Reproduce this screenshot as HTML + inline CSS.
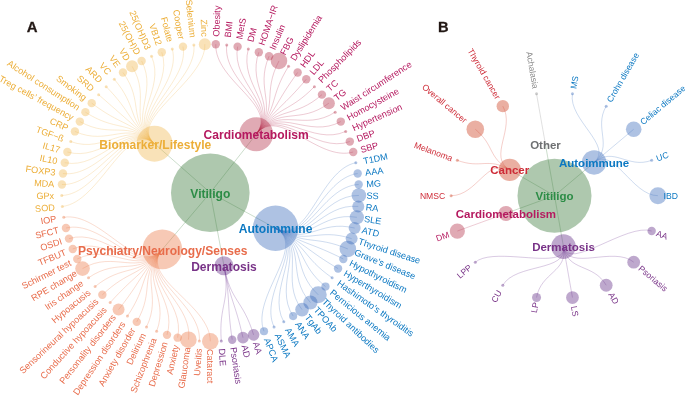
<!DOCTYPE html>
<html><head><meta charset="utf-8"><title>Vitiligo associations</title>
<style>
html,body{margin:0;padding:0;background:#fff;}
svg{display:block;font-family:"Liberation Sans",sans-serif;}
</style></head>
<body>
<svg width="685" height="396" viewBox="0 0 685 396">
<rect width="685" height="396" fill="#fff"/>
<g fill="none" stroke-width="0.5" stroke-opacity="0.5"><path d="M210.3 192.7L256.16 134.24" stroke="#357635"/><path d="M256.16 134.24C279.1 105.02 214.42 81.33 215.79 44.2" stroke="#B82E52"/><path d="M256.16 134.24C279.1 105.02 222.63 81.93 226.74 45.01" stroke="#B82E52"/><path d="M256.16 134.24C279.1 105.02 230.78 83.15 237.61 46.63" stroke="#B82E52"/><path d="M256.16 134.24C279.1 105.02 238.81 84.96 248.32 49.05" stroke="#B82E52"/><path d="M256.16 134.24C279.1 105.02 246.69 87.36 258.82 52.25" stroke="#B82E52"/><path d="M256.16 134.24C279.1 105.02 254.37 90.33 269.06 56.21" stroke="#B82E52"/><path d="M256.16 134.24C279.1 105.02 261.81 93.87 278.98 60.93" stroke="#B82E52"/><path d="M256.16 134.24C279.1 105.02 268.97 97.94 288.53 66.36" stroke="#B82E52"/><path d="M256.16 134.24C279.1 105.02 275.81 102.54 297.64 72.48" stroke="#B82E52"/><path d="M256.16 134.24C279.1 105.02 282.29 107.62 306.28 79.26" stroke="#B82E52"/><path d="M256.16 134.24C279.1 105.02 288.38 113.17 314.4 86.66" stroke="#B82E52"/><path d="M256.16 134.24C279.1 105.02 294.04 119.15 321.95 94.64" stroke="#B82E52"/><path d="M256.16 134.24C279.1 105.02 299.24 125.54 328.89 103.15" stroke="#B82E52"/><path d="M256.16 134.24C279.1 105.02 303.96 132.29 335.18 112.15" stroke="#B82E52"/><path d="M256.16 134.24C279.1 105.02 308.16 139.37 340.78 121.59" stroke="#B82E52"/><path d="M256.16 134.24C279.1 105.02 311.83 146.74 345.68 131.42" stroke="#B82E52"/><path d="M256.16 134.24C279.1 105.02 314.95 154.37 349.83 141.59" stroke="#B82E52"/><path d="M256.16 134.24C279.1 105.02 317.5 162.2 353.23 152.03" stroke="#B82E52"/><path d="M210.3 192.7L275.54 228.25" stroke="#357635"/><path d="M275.54 228.25C308.16 246.03 319.46 170.2 355.84 162.7" stroke="#3F72C0"/><path d="M275.54 228.25C308.16 246.03 320.82 178.32 357.66 173.53" stroke="#3F72C0"/><path d="M275.54 228.25C308.16 246.03 321.58 186.52 358.67 184.47" stroke="#3F72C0"/><path d="M275.54 228.25C308.16 246.03 321.73 194.76 358.87 195.45" stroke="#3F72C0"/><path d="M275.54 228.25C308.16 246.03 321.27 202.98 358.27 206.41" stroke="#3F72C0"/><path d="M275.54 228.25C308.16 246.03 320.21 211.15 356.85 217.3" stroke="#3F72C0"/><path d="M275.54 228.25C308.16 246.03 318.55 219.22 354.63 228.06" stroke="#3F72C0"/><path d="M275.54 228.25C308.16 246.03 316.3 227.14 351.63 238.62" stroke="#3F72C0"/><path d="M275.54 228.25C308.16 246.03 313.46 234.87 347.85 248.93" stroke="#3F72C0"/><path d="M275.54 228.25C308.16 246.03 310.07 242.38 343.32 258.94" stroke="#3F72C0"/><path d="M275.54 228.25C308.16 246.03 306.12 249.61 338.07 268.58" stroke="#3F72C0"/><path d="M275.54 228.25C308.16 246.03 301.66 256.53 332.11 277.81" stroke="#3F72C0"/><path d="M275.54 228.25C308.16 246.03 296.7 263.1 325.5 286.57" stroke="#3F72C0"/><path d="M275.54 228.25C308.16 246.03 291.26 269.29 318.25 294.82" stroke="#3F72C0"/><path d="M275.54 228.25C308.16 246.03 285.38 275.06 310.41 302.52" stroke="#3F72C0"/><path d="M275.54 228.25C308.16 246.03 279.1 280.38 302.03 309.61" stroke="#3F72C0"/><path d="M275.54 228.25C308.16 246.03 272.43 285.22 293.14 316.07" stroke="#3F72C0"/><path d="M275.54 228.25C308.16 246.03 265.43 289.56 283.81 321.85" stroke="#3F72C0"/><path d="M275.54 228.25C308.16 246.03 258.13 293.37 274.07 326.92" stroke="#3F72C0"/><path d="M275.54 228.25C308.16 246.03 250.56 296.62 263.98 331.27" stroke="#3F72C0"/><path d="M210.3 192.7L223.95 265.73" stroke="#357635"/><path d="M223.95 265.73C230.78 302.25 242.78 299.31 253.6 334.85" stroke="#6A3090"/><path d="M223.95 265.73C230.78 302.25 234.81 301.42 242.98 337.66" stroke="#6A3090"/><path d="M223.95 265.73C230.78 302.25 226.72 302.93 232.19 339.68" stroke="#6A3090"/><path d="M223.95 265.73C230.78 302.25 218.53 303.85 221.27 340.89" stroke="#6A3090"/><path d="M210.3 192.7L162.31 249.42" stroke="#357635"/><path d="M162.31 249.42C138.31 277.78 210.3 304.15 210.3 341.3" stroke="#EB7846"/><path d="M162.31 249.42C138.31 277.78 202.07 303.85 199.33 340.89" stroke="#EB7846"/><path d="M162.31 249.42C138.31 277.78 193.88 302.93 188.41 339.68" stroke="#EB7846"/><path d="M162.31 249.42C138.31 277.78 185.79 301.42 177.62 337.66" stroke="#EB7846"/><path d="M162.31 249.42C138.31 277.78 177.82 299.31 167 334.85" stroke="#EB7846"/><path d="M162.31 249.42C138.31 277.78 170.04 296.62 156.62 331.27" stroke="#EB7846"/><path d="M162.31 249.42C138.31 277.78 162.47 293.37 146.53 326.92" stroke="#EB7846"/><path d="M162.31 249.42C138.31 277.78 155.17 289.56 136.79 321.85" stroke="#EB7846"/><path d="M162.31 249.42C138.31 277.78 148.17 285.22 127.46 316.07" stroke="#EB7846"/><path d="M162.31 249.42C138.31 277.78 141.5 280.38 118.57 309.61" stroke="#EB7846"/><path d="M162.31 249.42C138.31 277.78 135.22 275.06 110.19 302.52" stroke="#EB7846"/><path d="M162.31 249.42C138.31 277.78 129.34 269.29 102.35 294.82" stroke="#EB7846"/><path d="M162.31 249.42C138.31 277.78 123.9 263.1 95.1 286.57" stroke="#EB7846"/><path d="M162.31 249.42C138.31 277.78 118.94 256.53 88.49 277.81" stroke="#EB7846"/><path d="M162.31 249.42C138.31 277.78 114.48 249.61 82.53 268.58" stroke="#EB7846"/><path d="M162.31 249.42C138.31 277.78 110.53 242.38 77.28 258.94" stroke="#EB7846"/><path d="M162.31 249.42C138.31 277.78 107.14 234.87 72.75 248.93" stroke="#EB7846"/><path d="M162.31 249.42C138.31 277.78 104.3 227.14 68.97 238.62" stroke="#EB7846"/><path d="M162.31 249.42C138.31 277.78 102.05 219.22 65.97 228.06" stroke="#EB7846"/><path d="M162.31 249.42C138.31 277.78 100.39 211.15 63.75 217.3" stroke="#EB7846"/><path d="M210.3 192.7L154.48 143.67" stroke="#357635"/><path d="M154.48 143.67C126.56 119.15 99.33 202.98 62.33 206.41" stroke="#EFB24A"/><path d="M154.48 143.67C126.56 119.15 98.87 194.76 61.73 195.45" stroke="#EFB24A"/><path d="M154.48 143.67C126.56 119.15 99.02 186.52 61.93 184.47" stroke="#EFB24A"/><path d="M154.48 143.67C126.56 119.15 99.78 178.32 62.94 173.53" stroke="#EFB24A"/><path d="M154.48 143.67C126.56 119.15 101.14 170.2 64.76 162.7" stroke="#EFB24A"/><path d="M154.48 143.67C126.56 119.15 103.1 162.2 67.37 152.03" stroke="#EFB24A"/><path d="M154.48 143.67C126.56 119.15 105.65 154.37 70.77 141.59" stroke="#EFB24A"/><path d="M154.48 143.67C126.56 119.15 108.77 146.74 74.92 131.42" stroke="#EFB24A"/><path d="M154.48 143.67C126.56 119.15 112.44 139.37 79.82 121.59" stroke="#EFB24A"/><path d="M154.48 143.67C126.56 119.15 116.64 132.29 85.42 112.15" stroke="#EFB24A"/><path d="M154.48 143.67C126.56 119.15 121.36 125.54 91.71 103.15" stroke="#EFB24A"/><path d="M154.48 143.67C126.56 119.15 126.56 119.15 98.65 94.64" stroke="#EFB24A"/><path d="M154.48 143.67C126.56 119.15 132.22 113.17 106.2 86.66" stroke="#EFB24A"/><path d="M154.48 143.67C126.56 119.15 138.31 107.62 114.32 79.26" stroke="#EFB24A"/><path d="M154.48 143.67C126.56 119.15 144.79 102.54 122.96 72.48" stroke="#EFB24A"/><path d="M154.48 143.67C126.56 119.15 151.63 97.94 132.07 66.36" stroke="#EFB24A"/><path d="M154.48 143.67C126.56 119.15 158.79 93.87 141.62 60.93" stroke="#EFB24A"/><path d="M154.48 143.67C126.56 119.15 166.23 90.33 151.54 56.21" stroke="#EFB24A"/><path d="M154.48 143.67C126.56 119.15 173.91 87.36 161.78 52.25" stroke="#EFB24A"/><path d="M154.48 143.67C126.56 119.15 181.79 84.96 172.28 49.05" stroke="#EFB24A"/><path d="M154.48 143.67C126.56 119.15 189.82 83.15 182.99 46.63" stroke="#EFB24A"/><path d="M154.48 143.67C126.56 119.15 197.97 81.93 193.86 45.01" stroke="#EFB24A"/><path d="M154.48 143.67C126.56 119.15 206.18 81.33 204.81 44.2" stroke="#EFB24A"/></g>
<g><circle cx="210.3" cy="192.7" r="39.3" fill="#357635" fill-opacity="0.4"/><circle cx="256.16" cy="134.24" r="17" fill="#B22B44" fill-opacity="0.4"/><circle cx="215.79" cy="44.2" r="4.2" fill="#B22B44" fill-opacity="0.4"/><circle cx="226.74" cy="45.01" r="1.5" fill="#B22B44" fill-opacity="0.4"/><circle cx="237.61" cy="46.63" r="4.2" fill="#B22B44" fill-opacity="0.4"/><circle cx="248.32" cy="49.05" r="1.5" fill="#B22B44" fill-opacity="0.4"/><circle cx="258.82" cy="52.25" r="4.2" fill="#B22B44" fill-opacity="0.4"/><circle cx="269.06" cy="56.21" r="4.2" fill="#B22B44" fill-opacity="0.4"/><circle cx="278.98" cy="60.93" r="8.3" fill="#B22B44" fill-opacity="0.4"/><circle cx="288.53" cy="66.36" r="1.5" fill="#B22B44" fill-opacity="0.4"/><circle cx="297.64" cy="72.48" r="4.2" fill="#B22B44" fill-opacity="0.4"/><circle cx="306.28" cy="79.26" r="4.2" fill="#B22B44" fill-opacity="0.4"/><circle cx="314.4" cy="86.66" r="1.5" fill="#B22B44" fill-opacity="0.4"/><circle cx="321.95" cy="94.64" r="4.2" fill="#B22B44" fill-opacity="0.4"/><circle cx="328.89" cy="103.15" r="6" fill="#B22B44" fill-opacity="0.4"/><circle cx="335.18" cy="112.15" r="1.5" fill="#B22B44" fill-opacity="0.4"/><circle cx="340.78" cy="121.59" r="4.2" fill="#B22B44" fill-opacity="0.4"/><circle cx="345.68" cy="131.42" r="1.5" fill="#B22B44" fill-opacity="0.4"/><circle cx="349.83" cy="141.59" r="4.2" fill="#B22B44" fill-opacity="0.4"/><circle cx="353.23" cy="152.03" r="4.2" fill="#B22B44" fill-opacity="0.4"/><circle cx="275.54" cy="228.25" r="22.7" fill="#3567B9" fill-opacity="0.4"/><circle cx="355.84" cy="162.7" r="1.5" fill="#3567B9" fill-opacity="0.4"/><circle cx="357.66" cy="173.53" r="4.2" fill="#3567B9" fill-opacity="0.4"/><circle cx="358.67" cy="184.47" r="4.2" fill="#3567B9" fill-opacity="0.4"/><circle cx="358.87" cy="195.45" r="7.3" fill="#3567B9" fill-opacity="0.4"/><circle cx="358.27" cy="206.41" r="6" fill="#3567B9" fill-opacity="0.4"/><circle cx="356.85" cy="217.3" r="7.1" fill="#3567B9" fill-opacity="0.4"/><circle cx="354.63" cy="228.06" r="6" fill="#3567B9" fill-opacity="0.4"/><circle cx="351.63" cy="238.62" r="6" fill="#3567B9" fill-opacity="0.4"/><circle cx="347.85" cy="248.93" r="8.3" fill="#3567B9" fill-opacity="0.4"/><circle cx="343.32" cy="258.94" r="4.2" fill="#3567B9" fill-opacity="0.4"/><circle cx="338.07" cy="268.58" r="4.2" fill="#3567B9" fill-opacity="0.4"/><circle cx="332.11" cy="277.81" r="1.5" fill="#3567B9" fill-opacity="0.4"/><circle cx="325.5" cy="286.57" r="4.1" fill="#3567B9" fill-opacity="0.4"/><circle cx="318.25" cy="294.82" r="8.5" fill="#3567B9" fill-opacity="0.4"/><circle cx="310.41" cy="302.52" r="7.1" fill="#3567B9" fill-opacity="0.4"/><circle cx="302.03" cy="309.61" r="6.8" fill="#3567B9" fill-opacity="0.4"/><circle cx="293.14" cy="316.07" r="4.1" fill="#3567B9" fill-opacity="0.4"/><circle cx="283.81" cy="321.85" r="1.5" fill="#3567B9" fill-opacity="0.4"/><circle cx="274.07" cy="326.92" r="1.5" fill="#3567B9" fill-opacity="0.4"/><circle cx="263.98" cy="331.27" r="4.1" fill="#3567B9" fill-opacity="0.4"/><circle cx="223.95" cy="265.73" r="9.5" fill="#5D2682" fill-opacity="0.4"/><circle cx="253.6" cy="334.85" r="5.8" fill="#5D2682" fill-opacity="0.4"/><circle cx="242.98" cy="337.66" r="5.8" fill="#5D2682" fill-opacity="0.4"/><circle cx="232.19" cy="339.68" r="4.2" fill="#5D2682" fill-opacity="0.4"/><circle cx="221.27" cy="340.89" r="1.5" fill="#5D2682" fill-opacity="0.4"/><circle cx="162.31" cy="249.42" r="19.9" fill="#EB7846" fill-opacity="0.4"/><circle cx="210.3" cy="341.3" r="8.3" fill="#EB7846" fill-opacity="0.4"/><circle cx="199.33" cy="340.89" r="1.5" fill="#EB7846" fill-opacity="0.4"/><circle cx="188.41" cy="339.68" r="8.3" fill="#EB7846" fill-opacity="0.4"/><circle cx="177.62" cy="337.66" r="4.2" fill="#EB7846" fill-opacity="0.4"/><circle cx="167" cy="334.85" r="4.2" fill="#EB7846" fill-opacity="0.4"/><circle cx="156.62" cy="331.27" r="1.5" fill="#EB7846" fill-opacity="0.4"/><circle cx="146.53" cy="326.92" r="1.5" fill="#EB7846" fill-opacity="0.4"/><circle cx="136.79" cy="321.85" r="4.2" fill="#EB7846" fill-opacity="0.4"/><circle cx="127.46" cy="316.07" r="1.5" fill="#EB7846" fill-opacity="0.4"/><circle cx="118.57" cy="309.61" r="6" fill="#EB7846" fill-opacity="0.4"/><circle cx="110.19" cy="302.52" r="1.5" fill="#EB7846" fill-opacity="0.4"/><circle cx="102.35" cy="294.82" r="4.2" fill="#EB7846" fill-opacity="0.4"/><circle cx="95.1" cy="286.57" r="1.5" fill="#EB7846" fill-opacity="0.4"/><circle cx="88.49" cy="277.81" r="1.5" fill="#EB7846" fill-opacity="0.4"/><circle cx="82.53" cy="268.58" r="7.3" fill="#EB7846" fill-opacity="0.4"/><circle cx="77.28" cy="258.94" r="4.2" fill="#EB7846" fill-opacity="0.4"/><circle cx="72.75" cy="248.93" r="4.2" fill="#EB7846" fill-opacity="0.4"/><circle cx="68.97" cy="238.62" r="4.2" fill="#EB7846" fill-opacity="0.4"/><circle cx="65.97" cy="228.06" r="4.2" fill="#EB7846" fill-opacity="0.4"/><circle cx="63.75" cy="217.3" r="1.5" fill="#EB7846" fill-opacity="0.4"/><circle cx="154.48" cy="143.67" r="18" fill="#F0B64E" fill-opacity="0.4"/><circle cx="62.33" cy="206.41" r="1.5" fill="#F0B64E" fill-opacity="0.4"/><circle cx="61.73" cy="195.45" r="1.5" fill="#F0B64E" fill-opacity="0.4"/><circle cx="61.93" cy="184.47" r="4.2" fill="#F0B64E" fill-opacity="0.4"/><circle cx="62.94" cy="173.53" r="4.2" fill="#F0B64E" fill-opacity="0.4"/><circle cx="64.76" cy="162.7" r="4.2" fill="#F0B64E" fill-opacity="0.4"/><circle cx="67.37" cy="152.03" r="4.2" fill="#F0B64E" fill-opacity="0.4"/><circle cx="70.77" cy="141.59" r="1.5" fill="#F0B64E" fill-opacity="0.4"/><circle cx="74.92" cy="131.42" r="4.2" fill="#F0B64E" fill-opacity="0.4"/><circle cx="79.82" cy="121.59" r="4.2" fill="#F0B64E" fill-opacity="0.4"/><circle cx="85.42" cy="112.15" r="4.2" fill="#F0B64E" fill-opacity="0.4"/><circle cx="91.71" cy="103.15" r="4.2" fill="#F0B64E" fill-opacity="0.4"/><circle cx="98.65" cy="94.64" r="1.5" fill="#F0B64E" fill-opacity="0.4"/><circle cx="106.2" cy="86.66" r="1.5" fill="#F0B64E" fill-opacity="0.4"/><circle cx="114.32" cy="79.26" r="1.5" fill="#F0B64E" fill-opacity="0.4"/><circle cx="122.96" cy="72.48" r="4.2" fill="#F0B64E" fill-opacity="0.4"/><circle cx="132.07" cy="66.36" r="6" fill="#F0B64E" fill-opacity="0.4"/><circle cx="141.62" cy="60.93" r="4.2" fill="#F0B64E" fill-opacity="0.4"/><circle cx="151.54" cy="56.21" r="1.5" fill="#F0B64E" fill-opacity="0.4"/><circle cx="161.78" cy="52.25" r="4.2" fill="#F0B64E" fill-opacity="0.4"/><circle cx="172.28" cy="49.05" r="1.5" fill="#F0B64E" fill-opacity="0.4"/><circle cx="182.99" cy="46.63" r="4.2" fill="#F0B64E" fill-opacity="0.4"/><circle cx="193.86" cy="45.01" r="1.5" fill="#F0B64E" fill-opacity="0.4"/><circle cx="204.81" cy="44.2" r="6" fill="#F0B64E" fill-opacity="0.4"/></g>
<g font-size="9.15" dy="0.35em"><text dy="0.35em" transform="translate(216.07 36.61) rotate(-87.88)" text-anchor="start" fill="#B5195F">Obesity</text><text dy="0.35em" transform="translate(227.58 37.46) rotate(-83.65)" text-anchor="start" fill="#B5195F">BMI</text><text dy="0.35em" transform="translate(239 39.16) rotate(-79.41)" text-anchor="start" fill="#B5195F">MetS</text><text dy="0.35em" transform="translate(250.26 41.7) rotate(-75.18)" text-anchor="start" fill="#B5195F">DM</text><text dy="0.35em" transform="translate(261.31 45.06) rotate(-70.94)" text-anchor="start" fill="#B5195F">HOMA−IR</text><text dy="0.35em" transform="translate(272.07 49.23) rotate(-66.71)" text-anchor="start" fill="#B5195F">Insulin</text><text dy="0.35em" transform="translate(282.5 54.19) rotate(-62.47)" text-anchor="start" fill="#B5195F">FBG</text><text dy="0.35em" transform="translate(292.53 59.9) rotate(-58.24)" text-anchor="start" fill="#B5195F">Dyslipidemia</text><text dy="0.35em" transform="translate(302.11 66.33) rotate(-54)" text-anchor="start" fill="#B5195F">HDL</text><text dy="0.35em" transform="translate(311.19 73.46) rotate(-49.76)" text-anchor="start" fill="#B5195F">LDL</text><text dy="0.35em" transform="translate(319.72 81.23) rotate(-45.53)" text-anchor="start" fill="#B5195F">Phospholipids</text><text dy="0.35em" transform="translate(327.66 89.62) rotate(-41.29)" text-anchor="start" fill="#B5195F">TC</text><text dy="0.35em" transform="translate(334.95 98.57) rotate(-37.06)" text-anchor="start" fill="#B5195F">TG</text><text dy="0.35em" transform="translate(341.56 108.03) rotate(-32.82)" text-anchor="start" fill="#B5195F">Waist circumference</text><text dy="0.35em" transform="translate(347.46 117.96) rotate(-28.59)" text-anchor="start" fill="#B5195F">Homocysteine</text><text dy="0.35em" transform="translate(352.6 128.29) rotate(-24.35)" text-anchor="start" fill="#B5195F">Hypertension</text><text dy="0.35em" transform="translate(356.97 138.98) rotate(-20.12)" text-anchor="start" fill="#B5195F">DBP</text><text dy="0.35em" transform="translate(360.54 149.95) rotate(-15.88)" text-anchor="start" fill="#B5195F">SBP</text><text dy="0.35em" transform="translate(363.28 161.17) rotate(-11.65)" text-anchor="start" fill="#0B78C2">T1DM</text><text dy="0.35em" transform="translate(365.19 172.55) rotate(-7.41)" text-anchor="start" fill="#0B78C2">AAA</text><text dy="0.35em" transform="translate(366.26 184.04) rotate(-3.18)" text-anchor="start" fill="#0B78C2">MG</text><text dy="0.35em" transform="translate(366.47 195.59) rotate(1.06)" text-anchor="start" fill="#0B78C2">SS</text><text dy="0.35em" transform="translate(365.83 207.11) rotate(5.29)" text-anchor="start" fill="#0B78C2">RA</text><text dy="0.35em" transform="translate(364.34 218.56) rotate(9.53)" text-anchor="start" fill="#0B78C2">SLE</text><text dy="0.35em" transform="translate(362.01 229.87) rotate(13.76)" text-anchor="start" fill="#0B78C2">ATD</text><text dy="0.35em" transform="translate(358.86 240.97) rotate(18)" text-anchor="start" fill="#0B78C2">Thyroid disease</text><text dy="0.35em" transform="translate(354.88 251.81) rotate(22.24)" text-anchor="start" fill="#0B78C2">Grave's disease</text><text dy="0.35em" transform="translate(350.12 262.32) rotate(26.47)" text-anchor="start" fill="#0B78C2">Hypothyroidism</text><text dy="0.35em" transform="translate(344.6 272.46) rotate(30.71)" text-anchor="start" fill="#0B78C2">Hyperthyroidism</text><text dy="0.35em" transform="translate(338.34 282.16) rotate(34.94)" text-anchor="start" fill="#0B78C2">Hashimoto's thyroiditis</text><text dy="0.35em" transform="translate(331.39 291.37) rotate(39.18)" text-anchor="start" fill="#0B78C2">Pernicious anemia</text><text dy="0.35em" transform="translate(323.77 300.05) rotate(43.41)" text-anchor="start" fill="#0B78C2">Thyroid antibodies</text><text dy="0.35em" transform="translate(315.53 308.13) rotate(47.65)" text-anchor="start" fill="#0B78C2">TPOAb</text><text dy="0.35em" transform="translate(306.72 315.59) rotate(51.88)" text-anchor="start" fill="#0B78C2">TgAb</text><text dy="0.35em" transform="translate(297.38 322.37) rotate(56.12)" text-anchor="start" fill="#0B78C2">ANA</text><text dy="0.35em" transform="translate(287.57 328.45) rotate(60.35)" text-anchor="start" fill="#0B78C2">AMA</text><text dy="0.35em" transform="translate(277.33 333.79) rotate(64.59)" text-anchor="start" fill="#0B78C2">ASMA</text><text dy="0.35em" transform="translate(266.73 338.35) rotate(68.82)" text-anchor="start" fill="#0B78C2">APCA</text><text dy="0.35em" transform="translate(255.82 342.12) rotate(73.06)" text-anchor="start" fill="#783287">AA</text><text dy="0.35em" transform="translate(244.66 345.07) rotate(77.29)" text-anchor="start" fill="#783287">AD</text><text dy="0.35em" transform="translate(233.31 347.2) rotate(81.53)" text-anchor="start" fill="#783287">Psoriasis</text><text dy="0.35em" transform="translate(221.84 348.47) rotate(85.76)" text-anchor="start" fill="#783287">DLE</text><text dy="0.35em" transform="translate(210.3 348.9) rotate(90)" text-anchor="start" fill="#E86C4B">Cataract</text><text dy="0.35em" transform="translate(198.76 348.47) rotate(-85.76)" text-anchor="end" fill="#E86C4B">Uveitis</text><text dy="0.35em" transform="translate(187.29 347.2) rotate(-81.53)" text-anchor="end" fill="#E86C4B">Glaucoma</text><text dy="0.35em" transform="translate(175.94 345.07) rotate(-77.29)" text-anchor="end" fill="#E86C4B">Anxiety</text><text dy="0.35em" transform="translate(164.78 342.12) rotate(-73.06)" text-anchor="end" fill="#E86C4B">Depression</text><text dy="0.35em" transform="translate(153.87 338.35) rotate(-68.82)" text-anchor="end" fill="#E86C4B">Schizophrenia</text><text dy="0.35em" transform="translate(143.27 333.79) rotate(-64.59)" text-anchor="end" fill="#E86C4B">Delirium</text><text dy="0.35em" transform="translate(133.03 328.45) rotate(-60.35)" text-anchor="end" fill="#E86C4B">Anxiety disorder</text><text dy="0.35em" transform="translate(123.22 322.37) rotate(-56.12)" text-anchor="end" fill="#E86C4B">Depression disorders</text><text dy="0.35em" transform="translate(113.88 315.59) rotate(-51.88)" text-anchor="end" fill="#E86C4B">Personality disorders</text><text dy="0.35em" transform="translate(105.07 308.13) rotate(-47.65)" text-anchor="end" fill="#E86C4B">Conductive hypoacusis</text><text dy="0.35em" transform="translate(96.83 300.05) rotate(-43.41)" text-anchor="end" fill="#E86C4B">Sensorineural hypoacusis</text><text dy="0.35em" transform="translate(89.21 291.37) rotate(-39.18)" text-anchor="end" fill="#E86C4B">Hypoacusis</text><text dy="0.35em" transform="translate(82.26 282.16) rotate(-34.94)" text-anchor="end" fill="#E86C4B">Iris change</text><text dy="0.35em" transform="translate(76 272.46) rotate(-30.71)" text-anchor="end" fill="#E86C4B">RPE change</text><text dy="0.35em" transform="translate(70.48 262.32) rotate(-26.47)" text-anchor="end" fill="#E86C4B">Schirmer test</text><text dy="0.35em" transform="translate(65.72 251.81) rotate(-22.24)" text-anchor="end" fill="#E86C4B">TFBUT</text><text dy="0.35em" transform="translate(61.74 240.97) rotate(-18)" text-anchor="end" fill="#E86C4B">OSDI</text><text dy="0.35em" transform="translate(58.59 229.87) rotate(-13.76)" text-anchor="end" fill="#E86C4B">SFCT</text><text dy="0.35em" transform="translate(56.26 218.56) rotate(-9.53)" text-anchor="end" fill="#E86C4B">IOP</text><text dy="0.35em" transform="translate(54.77 207.11) rotate(-5.29)" text-anchor="end" fill="#ECAE38">SOD</text><text dy="0.35em" transform="translate(54.13 195.59) rotate(-1.06)" text-anchor="end" fill="#ECAE38">GPx</text><text dy="0.35em" transform="translate(54.34 184.04) rotate(3.18)" text-anchor="end" fill="#ECAE38">MDA</text><text dy="0.35em" transform="translate(55.41 172.55) rotate(7.41)" text-anchor="end" fill="#ECAE38">FOXP3</text><text dy="0.35em" transform="translate(57.32 161.17) rotate(11.65)" text-anchor="end" fill="#ECAE38">IL10</text><text dy="0.35em" transform="translate(60.06 149.95) rotate(15.88)" text-anchor="end" fill="#ECAE38">IL17</text><text dy="0.35em" transform="translate(63.63 138.98) rotate(20.12)" text-anchor="end" fill="#ECAE38">TGF−ß</text><text dy="0.35em" transform="translate(68 128.29) rotate(24.35)" text-anchor="end" fill="#ECAE38">CRP</text><text dy="0.35em" transform="translate(73.14 117.96) rotate(28.59)" text-anchor="end" fill="#ECAE38">Treg cells’ frequency</text><text dy="0.35em" transform="translate(79.04 108.03) rotate(32.82)" text-anchor="end" fill="#ECAE38">Alcohol consumption</text><text dy="0.35em" transform="translate(85.65 98.57) rotate(37.06)" text-anchor="end" fill="#ECAE38">Smoking</text><text dy="0.35em" transform="translate(92.94 89.62) rotate(41.29)" text-anchor="end" fill="#ECAE38">SRD</text><text dy="0.35em" transform="translate(100.88 81.23) rotate(45.53)" text-anchor="end" fill="#ECAE38">ARD</text><text dy="0.35em" transform="translate(109.41 73.46) rotate(49.76)" text-anchor="end" fill="#ECAE38">VC</text><text dy="0.35em" transform="translate(118.49 66.33) rotate(54)" text-anchor="end" fill="#ECAE38">VE</text><text dy="0.35em" transform="translate(128.07 59.9) rotate(58.24)" text-anchor="end" fill="#ECAE38">VD</text><text dy="0.35em" transform="translate(138.1 54.19) rotate(62.47)" text-anchor="end" fill="#ECAE38">25(OH)D</text><text dy="0.35em" transform="translate(148.53 49.23) rotate(66.71)" text-anchor="end" fill="#ECAE38">25(OH)D3</text><text dy="0.35em" transform="translate(159.29 45.06) rotate(70.94)" text-anchor="end" fill="#ECAE38">VB12</text><text dy="0.35em" transform="translate(170.34 41.7) rotate(75.18)" text-anchor="end" fill="#ECAE38">Folate</text><text dy="0.35em" transform="translate(181.6 39.16) rotate(79.41)" text-anchor="end" fill="#ECAE38">Cooper</text><text dy="0.35em" transform="translate(193.02 37.46) rotate(83.65)" text-anchor="end" fill="#ECAE38">Selenium</text><text dy="0.35em" transform="translate(204.53 36.61) rotate(87.88)" text-anchor="end" fill="#ECAE38">Zinc</text></g>
<g font-size="12.05" font-weight="bold" text-anchor="middle"><text dy="0.43em" x="256.16" y="134.24" fill="#B5195F">Cardiometabolism</text><text dy="0.43em" x="275.54" y="228.25" fill="#0B78C2">Autoimmune</text><text dy="0.43em" x="223.95" y="265.73" fill="#783287">Dermatosis</text><text dy="0.43em" x="162.71" y="249.42" fill="#E86C4B">Psychiatry/Neurology/Senses</text><text dy="0.43em" x="155.28" y="143.67" fill="#ECAE38">Biomarker/Lifestyle</text></g>
<text x="210.3" y="192.7" dy="0.43em" font-size="12.05" font-weight="bold" text-anchor="middle" fill="#2C8C46">Vitiligo</text>
<g fill="none" stroke-width="0.5" stroke-opacity="0.5"><path d="M554.5 195.7L594.1 162.47" stroke="#357635"/><path d="M594.1 162.47C613.91 145.85 567.97 119.33 572.46 93.87" stroke="#3F72C0"/><path d="M594.1 162.47C613.91 145.85 593.27 128.54 606.2 106.15" stroke="#3F72C0"/><path d="M594.1 162.47C613.91 145.85 613.91 145.85 633.71 129.24" stroke="#3F72C0"/><path d="M594.1 162.47C613.91 145.85 627.37 169.18 651.66 160.34" stroke="#3F72C0"/><path d="M594.1 162.47C613.91 145.85 632.05 195.7 657.9 195.7" stroke="#3F72C0"/><path d="M554.5 195.7L563.48 246.61" stroke="#357635"/><path d="M563.48 246.61C567.97 272.07 627.37 222.22 651.66 231.06" stroke="#6A3090"/><path d="M563.48 246.61C567.97 272.07 613.91 245.55 633.71 262.16" stroke="#6A3090"/><path d="M563.48 246.61C567.97 272.07 593.27 262.86 606.2 285.25" stroke="#6A3090"/><path d="M563.48 246.61C567.97 272.07 567.97 272.07 572.46 297.53" stroke="#6A3090"/><path d="M563.48 246.61C567.97 272.07 541.03 272.07 536.54 297.53" stroke="#6A3090"/><path d="M563.48 246.61C567.97 272.07 515.73 262.86 502.8 285.25" stroke="#6A3090"/><path d="M563.48 246.61C567.97 272.07 495.09 245.55 475.29 262.16" stroke="#6A3090"/><path d="M554.5 195.7L505.92 213.38" stroke="#357635"/><path d="M505.92 213.38C481.63 222.22 481.63 222.22 457.34 231.06" stroke="#B82E52"/><path d="M554.5 195.7L509.73 169.85" stroke="#357635"/><path d="M509.73 169.85C487.34 156.92 476.95 195.7 451.1 195.7" stroke="#D84030"/><path d="M509.73 169.85C487.34 156.92 481.63 169.18 457.34 160.34" stroke="#D84030"/><path d="M509.73 169.85C487.34 156.92 495.09 145.85 475.29 129.24" stroke="#D84030"/><path d="M509.73 169.85C487.34 156.92 515.72 128.54 502.8 106.15" stroke="#D84030"/><path d="M554.5 195.7L545.52 144.79" stroke="#357635"/><path d="M545.52 144.79C541.03 119.33 541.03 119.33 536.54 93.87" stroke="#828282"/></g>
<g><circle cx="554.5" cy="195.7" r="37" fill="#357635" fill-opacity="0.4"/><circle cx="594.1" cy="162.47" r="12.2" fill="#3567B9" fill-opacity="0.4"/><circle cx="572.46" cy="93.87" r="1.5" fill="#3567B9" fill-opacity="0.4"/><circle cx="606.2" cy="106.15" r="1.5" fill="#3567B9" fill-opacity="0.4"/><circle cx="633.71" cy="129.24" r="7.8" fill="#3567B9" fill-opacity="0.4"/><circle cx="651.66" cy="160.34" r="1.5" fill="#3567B9" fill-opacity="0.4"/><circle cx="657.9" cy="195.7" r="8.5" fill="#3567B9" fill-opacity="0.4"/><circle cx="563.48" cy="246.61" r="12.3" fill="#5D2682" fill-opacity="0.4"/><circle cx="651.66" cy="231.06" r="4.2" fill="#5D2682" fill-opacity="0.4"/><circle cx="633.71" cy="262.16" r="6.4" fill="#5D2682" fill-opacity="0.4"/><circle cx="606.2" cy="285.25" r="6.4" fill="#5D2682" fill-opacity="0.4"/><circle cx="572.46" cy="297.53" r="6.4" fill="#5D2682" fill-opacity="0.4"/><circle cx="536.54" cy="297.53" r="4.5" fill="#5D2682" fill-opacity="0.4"/><circle cx="502.8" cy="285.25" r="1.5" fill="#5D2682" fill-opacity="0.4"/><circle cx="475.29" cy="262.16" r="1.5" fill="#5D2682" fill-opacity="0.4"/><circle cx="505.92" cy="213.38" r="7.5" fill="#B22B44" fill-opacity="0.4"/><circle cx="457.34" cy="231.06" r="7.6" fill="#B22B44" fill-opacity="0.4"/><circle cx="509.73" cy="169.85" r="11.2" fill="#CB3717" fill-opacity="0.4"/><circle cx="451.1" cy="195.7" r="1.5" fill="#CB3717" fill-opacity="0.4"/><circle cx="457.34" cy="160.34" r="1.5" fill="#CB3717" fill-opacity="0.4"/><circle cx="475.29" cy="129.24" r="8.8" fill="#CB3717" fill-opacity="0.4"/><circle cx="502.8" cy="106.15" r="6.2" fill="#CB3717" fill-opacity="0.4"/><circle cx="545.52" cy="144.79" r="1" fill="#828282" fill-opacity="0.4"/><circle cx="536.54" cy="93.87" r="1.5" fill="#828282" fill-opacity="0.4"/></g>
<g font-size="8.6" dy="0.35em"><text dy="0.35em" transform="translate(573.34 88.85) rotate(-80)" text-anchor="start" fill="#0B78C2">MS</text><text dy="0.35em" transform="translate(608.95 101.39) rotate(-60)" text-anchor="start" fill="#0B78C2">Crohn disease</text><text dy="0.35em" transform="translate(641.29 122.87) rotate(-40)" text-anchor="start" fill="#0B78C2">Celiac disease</text><text dy="0.35em" transform="translate(656.55 158.56) rotate(-20)" text-anchor="start" fill="#0B78C2">UC</text><text dy="0.35em" transform="translate(663.6 195.7) rotate(0)" text-anchor="start" fill="#0B78C2">IBD</text><text dy="0.35em" transform="translate(656.64 232.88) rotate(20)" text-anchor="start" fill="#783287">AA</text><text dy="0.35em" transform="translate(639.76 267.24) rotate(40)" text-anchor="start" fill="#783287">Psoriasis</text><text dy="0.35em" transform="translate(610.7 293.04) rotate(60)" text-anchor="start" fill="#783287">AD</text><text dy="0.35em" transform="translate(573.93 305.9) rotate(80)" text-anchor="start" fill="#783287">LS</text><text dy="0.35em" transform="translate(535.71 302.26) rotate(-80)" text-anchor="end" fill="#783287">LP</text><text dy="0.35em" transform="translate(499.55 290.88) rotate(-60)" text-anchor="end" fill="#783287">CU</text><text dy="0.35em" transform="translate(470.54 266.15) rotate(-40)" text-anchor="end" fill="#783287">LPP</text><text dy="0.35em" transform="translate(448.88 234.14) rotate(-20)" text-anchor="end" fill="#B5195F">DM</text><text dy="0.35em" transform="translate(445.2 195.7) rotate(0)" text-anchor="end" fill="#CE2C38">NMSC</text><text dy="0.35em" transform="translate(452.26 158.49) rotate(20)" text-anchor="end" fill="#CE2C38">Melanoma</text><text dy="0.35em" transform="translate(465.79 121.27) rotate(40)" text-anchor="end" fill="#CE2C38">Overall cancer</text><text dy="0.35em" transform="translate(498.3 98.36) rotate(60)" text-anchor="end" fill="#CE2C38">Thyroid cancer</text><text dy="0.35em" transform="translate(535.61 88.55) rotate(80)" text-anchor="end" fill="#8A8A8A">Achalasia</text></g>
<g font-size="11.5" font-weight="bold" text-anchor="middle"><text dy="0.37em" x="594.1" y="162.47" fill="#0B78C2">Autoimmune</text><text dy="0.37em" x="563.48" y="246.61" fill="#783287">Dermatosis</text><text dy="0.37em" x="505.92" y="213.38" fill="#B5195F">Cardiometabolism</text><text dy="0.37em" x="509.73" y="169.85" fill="#CE2C38">Cancer</text><text dy="0.37em" x="545.52" y="144.79" fill="#6E7072">Other</text></g>
<text x="554.5" y="195.7" dy="0.37em" font-size="11.5" font-weight="bold" text-anchor="middle" fill="#2C8C46">Vitiligo</text>
<text transform="translate(26.7 31.9) scale(1.07 1)" font-size="14" font-weight="bold" fill="#231815" stroke="#231815" stroke-width="0.25">A</text>
<text transform="translate(438.1 31.9) scale(1.05 1)" font-size="14" font-weight="bold" fill="#231815" stroke="#231815" stroke-width="0.25">B</text>
</svg>
</body></html>
